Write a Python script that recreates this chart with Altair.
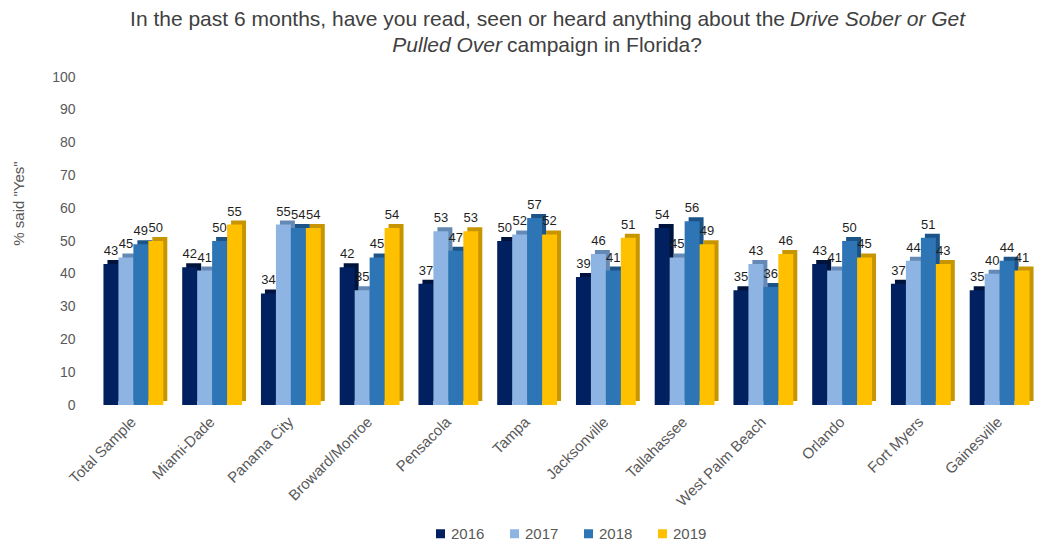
import altair as alt
import pandas as pd

categories = ["Total Sample", "Miami-Dade", "Panama City", "Broward/Monroe", "Pensacola",
              "Tampa", "Jacksonville", "Tallahassee", "West Palm Beach", "Orlando",
              "Fort Myers", "Gainesville"]
years = ["2016", "2017", "2018", "2019"]
v2016 = [43, 42, 34, 42, 37, 50, 39, 54, 35, 43, 37, 35]
v2017 = [45, 41, 55, 35, 53, 52, 46, 45, 43, 41, 44, 40]
v2018 = [49, 50, 54, 45, 47, 57, 41, 56, 36, 50, 51, 44]
v2019 = [50, 55, 54, 54, 53, 52, 51, 49, 46, 45, 43, 41]

series = {"2016": v2016, "2017": v2017, "2018": v2018, "2019": v2019}
rows = []
for y in years:
    for c, v in zip(categories, series[y]):
        rows.append({"cat": c, "year": y, "value": v})
df = pd.DataFrame(rows)

front = ["#002060", "#8DB4E2", "#2E75B6", "#FFC000"]
side = ["#00133d", "#6489b5", "#1d5488", "#c79500"]

FONT = "Liberation Sans"
GREY = "#595959"

W = 945
N = len(categories)
P_IN, P_OUT = 0.24, 0.12
STEP = W / (N - P_IN + 2 * P_OUT)
BAND = STEP * (1 - P_IN)
DEPTH = 4

x = alt.X("cat:N", sort=categories, title=None,
          scale=alt.Scale(paddingInner=P_IN, paddingOuter=P_OUT),
          axis=alt.Axis(labelAngle=-45, labelAlign="right", labelBaseline="middle",
                        labelFontSize=15, labelColor=GREY, labelFont=FONT,
                        ticks=False, domain=False, labelPadding=14))
xo = alt.XOffset("year:N", sort=years)
xo_shade = alt.XOffset("year:N", sort=years,
                       scale=alt.Scale(range=[DEPTH, BAND + DEPTH], paddingInner=0, paddingOuter=0))
y = alt.Y("value:Q", scale=alt.Scale(domain=[0, 100]),
          title='% said "Yes"',
          axis=alt.Axis(values=list(range(0, 101, 10)), grid=False, domain=False, ticks=False,
                        labelFontSize=14, labelColor=GREY, labelFont=FONT, labelPadding=19,
                        titleFontSize=15, titleColor=GREY, titleFont=FONT,
                        titleFontWeight="normal", titleX=-68, titleY=126))

base = alt.Chart(df)

shade = base.mark_bar(yOffset=-DEPTH).encode(
    x=x, xOffset=xo_shade, y=y,
    color=alt.Color("year:N", sort=years, scale=alt.Scale(domain=years, range=side), legend=None),
)

bars = base.mark_bar().encode(
    x=x, xOffset=xo, y=y,
    color=alt.Color("year:N", sort=years, scale=alt.Scale(domain=years, range=front),
                    legend=alt.Legend(title=None, orient="none", legendX=339, legendY=449,
                                      direction="horizontal", symbolType="square",
                                      symbolSize=81, symbolStrokeWidth=0,
                                      labelFontSize=15, labelColor=GREY, labelFont=FONT,
                                      columnPadding=22, labelOffset=3)),
)

labels = base.mark_text(dy=-13, fontSize=13, color="#1f1f1f", font=FONT).encode(
    x=x, xOffset=xo, y=y, text="value:Q"
)

one = pd.DataFrame({"t": [0]})
TCOL = "#404040"
TS = 21
t1a = alt.Chart(one).mark_text(align="right", baseline="middle", fontSize=TS, font=FONT, color=TCOL).encode(
    x=alt.value(691), y=alt.value(-57.5),
    text=alt.value("In the past 6 months, have you read, seen or heard anything about the"))
t1b = alt.Chart(one).mark_text(align="left", baseline="middle", fontSize=TS, font=FONT, color=TCOL,
                               fontStyle="italic").encode(
    x=alt.value(696), y=alt.value(-57.5), text=alt.value("Drive Sober or Get"))
t2a = alt.Chart(one).mark_text(align="right", baseline="middle", fontSize=TS, font=FONT, color=TCOL,
                               fontStyle="italic").encode(
    x=alt.value(408), y=alt.value(-31.5), text=alt.value("Pulled Over"))
t2b = alt.Chart(one).mark_text(align="left", baseline="middle", fontSize=TS, font=FONT, color=TCOL).encode(
    x=alt.value(413), y=alt.value(-31.5), text=alt.value("campaign in Florida?"))

chart = alt.layer(shade, bars, labels, t1a, t1b, t2a, t2b).resolve_scale(
    color="independent", xOffset="independent"
).properties(
    width=W, height=328,
    autosize=alt.AutoSizeParams(type="none"),
    padding={"left": 86, "top": 69, "right": 2, "bottom": 137},
    background="white",
).configure_view(stroke=None)

chart.save("out.html", embed_options={"renderer": "svg", "actions": False})
